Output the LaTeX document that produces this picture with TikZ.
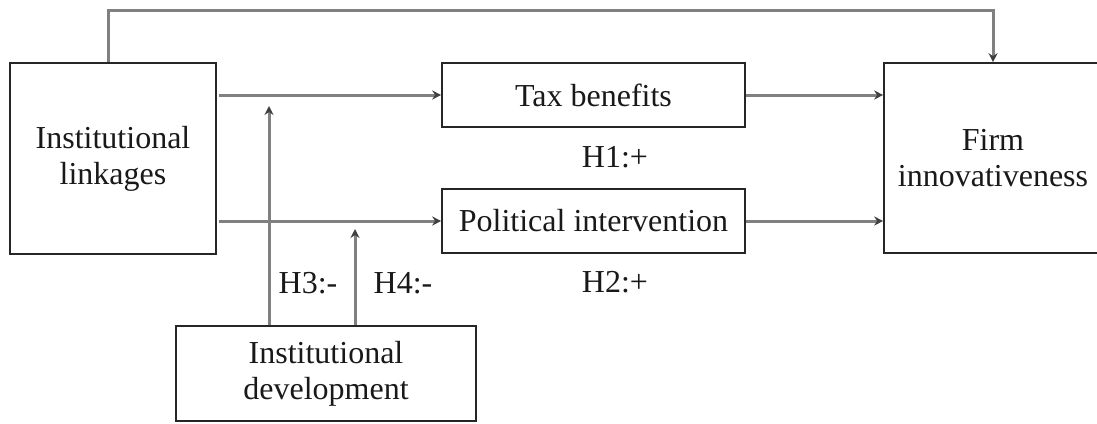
\documentclass[tikz,border=0pt]{standalone}
\usepackage{fontspec}
\setmainfont{Liberation Serif}
\usetikzlibrary{arrows.meta}
\tikzset{
  boxnode/.style={draw=black!85, line width=1.6pt, rectangle, inner sep=0pt, align=center,
    font=\fontsize{32}{36}\selectfont, text=black!90},
  conn/.style={draw=black!50, line width=3pt},
  arr/.style={conn, -{Stealth[length=9pt,width=9pt,color=black!75]}},
  lbl/.style={font=\fontsize{32}{36}\selectfont, text=black!90, inner sep=0pt}
}
\begin{document}
\begin{tikzpicture}[x=1pt,y=-1pt]
\useasboundingbox (0,0) rectangle (1097,423);
\node[boxnode, minimum width=206pt, minimum height=191pt] (IL) at (113,158.5) {Institutional\\linkages};
\node[boxnode, minimum width=303pt, minimum height=64pt] (TB) at (593.5,95) {Tax benefits};
\node[boxnode, minimum width=303pt, minimum height=64pt] (PI) at (593.5,221) {Political intervention};
\node[boxnode, minimum width=218pt, minimum height=190pt] (FI) at (993,158) {Firm\\innovativeness};
\node[boxnode, minimum width=300pt, minimum height=95pt] (ID) at (326,373.5) {Institutional\\development};
\node[lbl] (h1) at (615,157) {H1:+};
\node[lbl] (h2) at (615,282) {H2:+};
\node[lbl] (h3) at (308,283) {H3:-};
\node[lbl] (h4) at (403,283) {H4:-};
\coordinate (topL) at (108,10);
\coordinate (m1) at (269,106);
\coordinate (m2) at (355,229);
\draw[arr] ([xshift=2pt]IL.east |- TB.west) -- (TB.west);
\draw[arr] ([xshift=2pt]IL.east |- PI.west) -- (PI.west);
\draw[arr] (TB.east) -- (FI.west |- TB.east);
\draw[arr] (PI.east) -- (FI.west |- PI.east);
\draw[arr] (IL.north -| topL) -- (topL) -| (FI.north);
\draw[arr] (ID.north -| m1) -- (m1);
\draw[arr] (ID.north -| m2) -- (m2);
\end{tikzpicture}
\end{document}
